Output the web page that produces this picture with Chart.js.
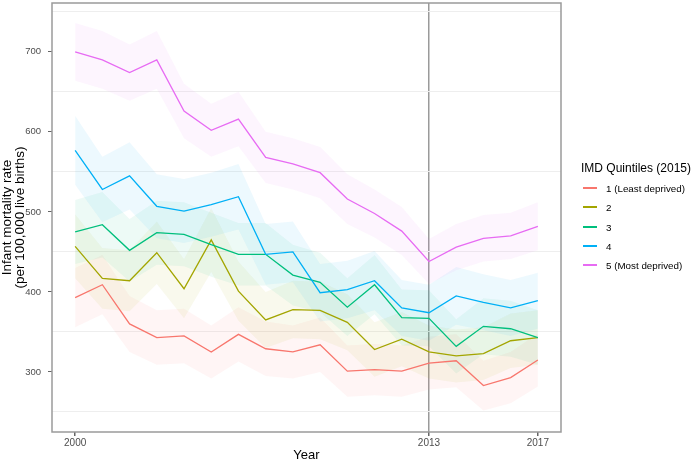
<!DOCTYPE html>
<html>
<head>
<meta charset="utf-8">
<script src="https://cdn.jsdelivr.net/npm/chart.js@4.4.0/dist/chart.umd.min.js"></script>
<style>
  body { margin: 0; background: #fff; font-family: "Liberation Sans", Arial, sans-serif; }
  #wrap { position: relative; width: 694px; height: 462px; }
  #legendTitle { position: absolute; left: 581px; top: 161px; font-size: 12px; line-height: 14px; color: #000; white-space: nowrap; }
  .item { position: absolute; left: 583px; height: 20px; display: flex; align-items: center; font-size: 9.8px; color: #000; white-space: nowrap; }
  .key { width: 14px; height: 2px; margin-right: 9px; }
</style>
</head>
<body>
<div id="wrap">
  <canvas id="chart" width="694" height="462"></canvas>
  <div id="legendTitle">IMD Quintiles (2015)</div>
</div>
<script>
// years on the x axis
const years = [2000, 2001, 2002, 2003, 2004, 2005, 2006, 2007, 2008, 2009, 2010, 2011, 2012, 2013, 2014, 2015, 2016, 2017];

// infant mortality rate per quintile, and half width of the shaded band
const q1 = [393, 409, 360, 343, 345, 325, 347, 329, 325, 334, 301, 303, 301, 311, 314, 283, 293, 315];
const q1hw = [37, 37, 35, 34, 34, 33, 34, 34, 33, 34, 32, 32, 32, 33, 33, 31, 32, 33];
const q2 = [457, 417, 414, 449, 404, 465, 401, 365, 378, 377, 362, 328, 341, 325, 320, 323, 339, 343];
const q2hw = [40, 38, 38, 39, 37, 40, 37, 35, 36, 36, 35, 34, 34, 33, 33, 33, 34, 34];
const q3 = [475, 484, 452, 474, 472, 459, 447, 447, 421, 412, 381, 409, 368, 367, 332, 357, 354, 343];
const q3hw = [40, 41, 39, 40, 40, 40, 39, 39, 38, 37, 36, 37, 35, 35, 34, 35, 35, 34];
const q4 = [577, 528, 545, 507, 501, 509, 519, 447, 450, 399, 403, 414, 380, 374, 395, 387, 380, 389];
const q4hw = [43, 41, 42, 40, 40, 40, 41, 38, 38, 36, 36, 37, 35, 35, 36, 35, 35, 35];
const q5 = [700, 690, 674, 690, 626, 602, 616, 568, 560, 549, 516, 498, 476, 438, 456, 467, 470, 482];
const q5hw = [36, 36, 35, 36, 34, 33, 34, 32, 32, 32, 31, 30, 30, 28, 29, 29, 29, 30];

const seriesNames = ['1 (Least deprived)', '2', '3', '4', '5 (Most deprived)'];
const seriesColors = ['#F8766D', '#A3A500', '#00BF7D', '#00B0F6', '#E76BF3'];
const seriesFills = ['rgba(248,118,109,0.07)', 'rgba(163,165,0,0.07)', 'rgba(0,191,125,0.07)', 'rgba(0,176,246,0.07)', 'rgba(231,107,243,0.07)'];
const allValues = [q1, q2, q3, q4, q5];
const allHalf = [q1hw, q2hw, q3hw, q4hw, q5hw];

const xTicks = [2000, 2013, 2017];
const yGrid = [250, 300, 350, 400, 450, 500, 550, 600, 650, 700, 750];

const font = '"Liberation Sans", Arial, sans-serif';

// build datasets: one line per quintile plus an upper/lower pair for the ribbon
const datasets = [];
allValues.forEach((vals, k) => {
  datasets.push({
    data: years.map((yr, i) => ({ x: yr, y: vals[i] })),
    borderColor: seriesColors[k],
    borderWidth: 1.3,
    pointRadius: 0,
    fill: false,
    order: 4 - k
  });
});
allValues.forEach((vals, k) => {
  const hw = allHalf[k];
  datasets.push({
    data: years.map((yr, i) => ({ x: yr, y: vals[i] + hw[i] })),
    borderWidth: 0,
    borderColor: 'transparent',
    backgroundColor: seriesFills[k],
    pointRadius: 0,
    fill: '+1',
    order: 20 - k
  });
  datasets.push({
    data: years.map((yr, i) => ({ x: yr, y: vals[i] - hw[i] })),
    borderWidth: 0,
    borderColor: 'transparent',
    pointRadius: 0,
    fill: false,
    order: 20 - k
  });
});

// panel border on all four sides
const panelBorder = {
  id: 'panelBorder',
  afterDraw(chart) {
    const { ctx, chartArea } = chart;
    ctx.save();
    ctx.strokeStyle = '#9a9a9a';
    ctx.lineWidth = 1.5;
    ctx.strokeRect(chartArea.left, chartArea.top, chartArea.right - chartArea.left, chartArea.bottom - chartArea.top);
    ctx.restore();
  }
};

new Chart(document.getElementById('chart').getContext('2d'), {
  type: 'line',
  data: { datasets: datasets },
  options: {
    responsive: false,
    animation: false,
    layout: { padding: { left: 0, top: 3, right: 133, bottom: 0 } },
    plugins: { legend: { display: false }, tooltip: { enabled: false } },
    scales: {
      x: {
        type: 'linear',
        min: 1999.15,
        max: 2017.85,
        afterBuildTicks: axis => { axis.ticks = xTicks.map(v => ({ value: v })); },
        afterFit: scale => { scale.height = 30; scale.paddingLeft = 0; scale.paddingRight = 0; },
        border: { display: false },
        grid: {
          color: c => (c.tick && c.tick.value === 2013) ? '#9a9a9a' : 'transparent',
          lineWidth: 1.5,
          tickColor: '#666',
          tickLength: 4
        },
        ticks: {
          padding: 1,
          maxRotation: 0,
          color: '#4d4d4d',
          font: { family: font, size: 10 },
          callback: v => String(v)
        },
        title: {
          display: true,
          text: 'Year',
          color: '#000',
          padding: 0,
          font: { family: font, size: 13, lineHeight: 1 }
        }
      },
      y: {
        min: 225,
        max: 761,
        afterBuildTicks: axis => { axis.ticks = yGrid.map(v => ({ value: v })); },
        afterFit: scale => { scale.width = 52; scale.paddingTop = 0; scale.paddingBottom = 0; },
        border: { display: false },
        grid: {
          color: c => (c.tick && c.tick.value % 100 !== 0) ? '#eeeeee' : 'transparent',
          lineWidth: 1,
          tickColor: c => (c.tick && c.tick.value % 100 === 0) ? '#666' : 'transparent',
          tickLength: 4
        },
        ticks: {
          padding: 7,
          color: '#4d4d4d',
          font: { family: font, size: 9.5 },
          callback: v => (v % 100 === 0 ? String(v) : '')
        },
        title: {
          display: true,
          text: ['Infant mortality rate', '(per 100,000 live births)'],
          color: '#000',
          padding: { top: 1.1, bottom: 0 },
          font: { family: font, size: 13.5, lineHeight: 0.95 }
        }
      }
    }
  },
  plugins: [panelBorder]
});

// legend, drawn as html to the right of the panel
const wrap = document.getElementById('wrap');
seriesNames.forEach((name, k) => {
  const row = document.createElement('div');
  row.className = 'item';
  row.style.top = Math.round(178 + k * 19.3) + 'px';
  const key = document.createElement('div');
  key.className = 'key';
  key.style.background = seriesColors[k];
  row.appendChild(key);
  row.appendChild(document.createTextNode(name));
  wrap.appendChild(row);
});
</script>
</body>
</html>
